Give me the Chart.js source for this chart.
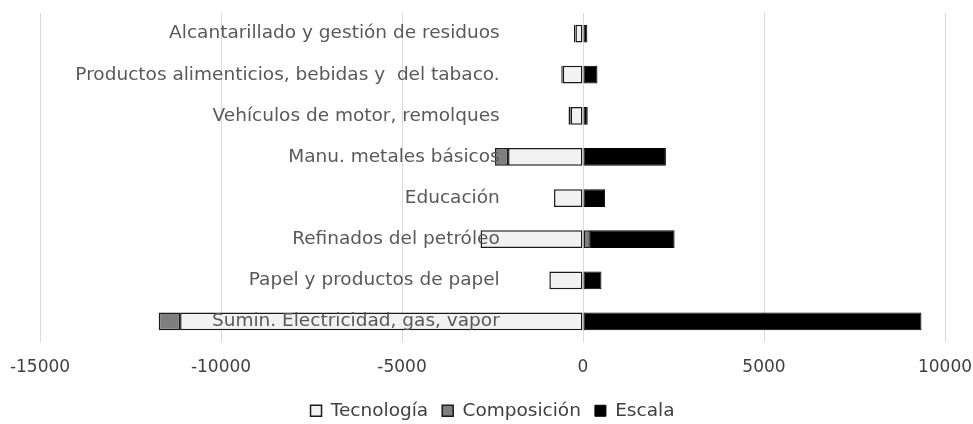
<!DOCTYPE html>
<html>
<head>
<meta charset="utf-8">
<script src="https://cdn.jsdelivr.net/npm/chart.js@4/dist/chart.umd.min.js"></script>
<style>
  html, body { margin: 0; padding: 0; background: #fff; }
  #wrap { width: 973px; height: 424px; }
</style>
</head>
<body>
<div id="wrap"><canvas id="chart"></canvas></div>
<script>
// Sectors, top to bottom
const categories = [
    'Alcantarillado y gestión de residuos',
    'Productos alimenticios, bebidas y  del tabaco.',
    'Vehículos de motor, remolques',
    'Manu. metales básicos',
    'Educación',
    'Refinados del petróleo',
    'Papel y productos de papel',
    'Sumin. Electricidad, gas, vapor'
];

// Decomposition effects
const tecnologia = [-210, -560, -340, -2070, -800, -2830, -930, -11130];
const composicion = [-40, -40, -60, -360, 0, 190, 0, -590];
const escala = [120, 400, 130, 2290, 610, 2340, 510, 9350];

const xTicks = [-15000, -10000, -5000, 0, 5000, 10000];

const fontFamily = "'DejaVu Sans', sans-serif";
const textColor = '#595959';

new Chart(document.getElementById('chart'), {
    type: 'bar',
    data: {
        labels: categories,
        datasets: [
            {
                label: 'Tecnología',
                data: tecnologia,
                backgroundColor: '#f2f2f2',
                borderColor: '#1a1a1a',
                borderWidth: 1.5,
                borderSkipped: false
            },
            {
                label: 'Composición',
                data: composicion,
                backgroundColor: '#7f7f7f',
                borderColor: '#1a1a1a',
                borderWidth: 1.5,
                borderSkipped: false
            },
            {
                label: 'Escala',
                data: escala,
                backgroundColor: '#000000',
                borderColor: '#000000',
                borderWidth: 1,
                borderSkipped: false
            }
        ]
    },
    options: {
        indexAxis: 'y',
        responsive: true,
        maintainAspectRatio: false,
        animation: false,
        datasets: {
            bar: {
                categoryPercentage: 1,
                barPercentage: 0.43
            }
        },
        layout: {
            padding: { left: 40, right: 28, top: 13, bottom: -6 }
        },
        scales: {
            x: {
                stacked: true,
                min: -15000,
                max: 10000,
                afterBuildTicks: function(scale) {
                    scale.ticks = xTicks.map(v => ({ value: v }));
                },
                afterFit: function(scale) {
                    scale.height = 45.5;
                },
                grid: {
                    color: '#d9d9d9',
                    lineWidth: 1,
                    drawTicks: true,
                    tickLength: 15,
                    tickColor: 'rgba(0,0,0,0)'
                },
                border: { display: false },
                ticks: {
                    color: '#404040',
                    padding: 0,
                    maxRotation: 0,
                    font: { family: fontFamily, size: 17 },
                    callback: function(value) {
                        return String(value);
                    }
                }
            },
            y: {
                stacked: true,
                position: { x: -2300 },
                grid: { display: false, drawTicks: false },
                border: { display: false },
                ticks: {
                    z: 1,
                    color: textColor,
                    padding: 0,
                    font: { family: fontFamily, size: 18.5 }
                }
            }
        },
        plugins: {
            legend: {
                position: 'bottom',
                labels: {
                    color: '#404040',
                    boxWidth: 11,
                    boxHeight: 11,
                    padding: 14,
                    font: { family: fontFamily, size: 18.5 }
                }
            },
            tooltip: { enabled: false }
        }
    }
});
</script>
</body>
</html>
